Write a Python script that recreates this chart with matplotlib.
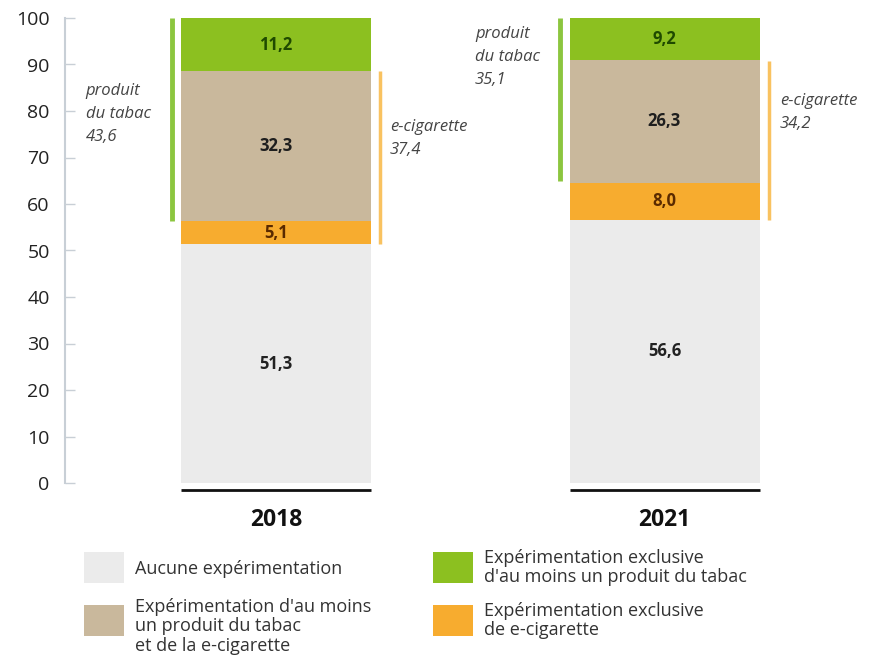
import matplotlib.pyplot as plt
import matplotlib.patches as mpatches

plt.rcParams['font.family'] = ['Open Sans', 'DejaVu Sans']

# données (%)
years = ['2018', '2021']
aucune = [51.3, 56.6]
ecig_excl = [5.1, 8.0]
tabac_et_ecig = [32.3, 26.3]
tabac_excl = [11.2, 9.2]
total_tabac = [43.6, 35.1]
total_ecig = [37.4, 34.2]

series = [
    (aucune, '#ebebeb', '#222222', 'Aucune expérimentation'),
    (ecig_excl, '#f7ac2f', '#5a2a00', 'Expérimentation exclusive\nde e-cigarette'),
    (tabac_et_ecig, '#c9b89c', '#1e1e1e', "Expérimentation d'au moins\nun produit du tabac\net de la e-cigarette"),
    (tabac_excl, '#8cc020', '#1f4a00', "Expérimentation exclusive\nd'au moins un produit du tabac"),
]

fig = plt.figure(figsize=(8.7, 6.58), dpi=100)
ax = fig.add_axes([65 / 870, 1 - 483 / 658, 800 / 870, 465 / 658])

x = [0, 1]
width = 0.489
bottom = [0, 0]
for vals, color, tcolor, _ in series:
    ax.bar(x, vals, width=width, bottom=bottom, color=color, edgecolor='none')
    for i, v in enumerate(vals):
        ax.text(x[i], bottom[i] + v / 2, f'{v:.1f}'.replace('.', ','),
                ha='center', va='center', fontsize=12, fontweight='bold', color=tcolor)
    bottom = [b + v for b, v in zip(bottom, vals)]

# accolades latérales : tabac (vert, à gauche) et e-cigarette (orange, à droite)
off = 0.268
for i in range(2):
    ax.vlines(x[i] - off, 100 - total_tabac[i], 100, color='#8cc63f', lw=3.5, clip_on=False)
    ecig_bot = aucune[i]
    ax.vlines(x[i] + off, ecig_bot, ecig_bot + total_ecig[i], color='#f9c260', lw=2.5, clip_on=False)
    # ligne de base sous chaque barre
    ax.hlines(-1.5, x[i] - width / 2, x[i] + width / 2, color='#111111', lw=2, clip_on=False)
    ax.text(x[i], -8.0, years[i], ha='center', va='center', fontsize=16.5,
            fontweight='bold', color='#111111', clip_on=False)

tabac_pos = [(-0.49, 86.0), (-0.488, 98.3)]
ecig_pos = [(0.293, 78.3), (0.297, 83.9)]
for i in range(2):
    tx, ty = tabac_pos[i]
    ax.text(x[i] + tx, ty, 'produit\ndu tabac\n' + f'{total_tabac[i]:.1f}'.replace('.', ','),
            ha='left', va='top', fontsize=12, style='italic', color='#444444', linespacing=1.6)
    ex, ey = ecig_pos[i]
    ax.text(x[i] + ex, ey, 'e-cigarette\n' + f'{total_ecig[i]:.1f}'.replace('.', ','),
            ha='left', va='top', fontsize=12, style='italic', color='#444444', linespacing=1.6)

ax.set_xlim(-0.543, 1.516)
ax.set_ylim(0, 100)
ax.set_yticks(range(0, 101, 10))
ax.tick_params(axis='y', direction='in', length=7, width=1, color='#c8cfd6',
               labelsize=14, labelcolor='#222222', pad=11)
ax.set_xticks([])
for s in ['top', 'right', 'bottom']:
    ax.spines[s].set_visible(False)
ax.spines['left'].set_color('#c8cfd6')
ax.spines['left'].set_linewidth(1.5)

# légende
leg = [
    (84, 552, series[0], 569, 'center'),
    (84, 605, series[2], 598, 'top'),
    (433, 552, series[3], 549, 'top'),
    (433, 605, series[1], 602, 'top'),
]
for px, py, (_, color, _, label), ty, va in leg:
    fig.add_artist(mpatches.Rectangle((px / 870, 1 - (py + 31) / 658), 40 / 870, 31 / 658,
                                      transform=fig.transFigure, color=color, lw=0))
    fig.text((px + 51) / 870, 1 - ty / 658, label, ha='left', va=va,
             fontsize=13, color='#333333', linespacing=1.1)

fig.savefig('out.png', dpi=100)
